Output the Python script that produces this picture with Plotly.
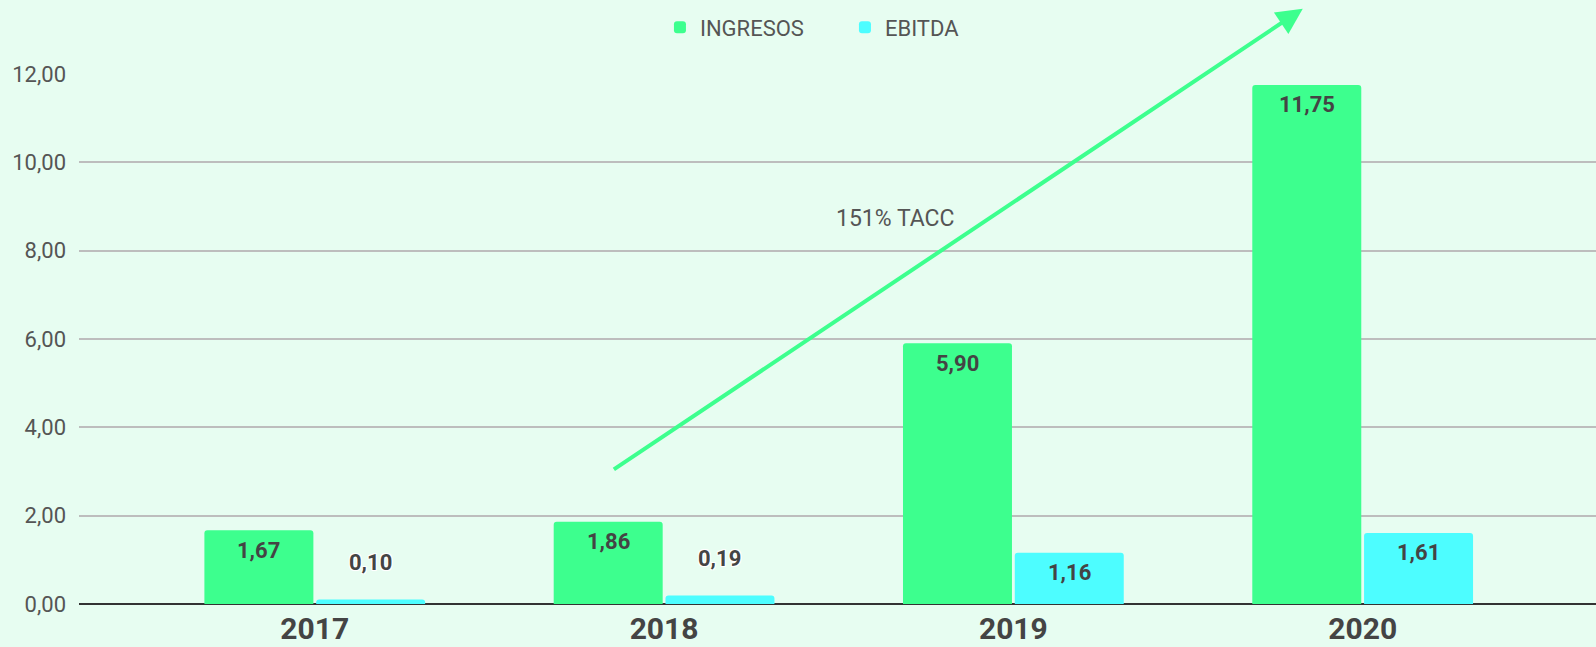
import plotly.graph_objects as go

years = ["2017", "2018", "2019", "2020"]
ingresos = [1.67, 1.86, 5.90, 11.75]
ebitda = [0.10, 0.19, 1.16, 1.61]
series_names = ["INGRESOS", "EBITDA"]
y_ticks = [0, 2, 4, 6, 8, 10, 12]
cagr_text = "151% TACC"

GREEN = "#3DFF8E"
CYAN = "#4DFDFF"
BG = "#E7FDF1"
TXT = "#555555"
LBL = "#444444"

W, H = 1596, 647
M_L, M_R, M_T, M_B = 79, 0, 73, 43
BARGAP = 0.36
BGG = 0.025
Y_MAX = 12.02
plot_h = H - M_T - M_B
px_per_unit = plot_h / Y_MAX

fig = go.Figure()
fig.add_trace(go.Bar(x=years, y=ingresos, name=series_names[0],
                     marker=dict(color=GREEN, cornerradius=3, line=dict(width=0))))
fig.add_trace(go.Bar(x=years, y=ebitda, name=series_names[1],
                     marker=dict(color=CYAN, cornerradius=3, line=dict(width=0))))

def fmt(v):
    return f"{v:.2f}".replace(".", ",")

slot = (1 - BARGAP) / 2
halo = "-1px -1px 0 #fff, 1px -1px 0 #fff, -1px 1px 0 #fff, 1px 1px 0 #fff, 0 0 2px #fff"
annotations = []
for si, vals in enumerate([ingresos, ebitda]):
    off = (si - 0.5) * slot
    for i, v in enumerate(vals):
        inside = v * px_per_unit > 40
        annotations.append(dict(
            x=i + off, y=v, xref="x", yref="y", text=fmt(v), showarrow=False,
            yanchor="middle", yshift=-20 if inside else 37,
            font=dict(family="Roboto", size=22, color=LBL, weight="bold",
                      shadow="none" if inside else halo)))

# growth arrow
annotations.append(dict(
    xref="x domain", yref="y domain", axref="x domain", ayref="y domain",
    x=0.8067, y=1.121, ax=0.3516, ay=0.2516,
    showarrow=True, arrowhead=2, arrowsize=1.3, arrowwidth=4, arrowcolor=GREEN,
    text=""))
annotations.append(dict(
    xref="paper", yref="paper", x=0.5383, y=0.7543, text=cagr_text,
    showarrow=False, font=dict(family="Roboto", size=23, color=TXT)))

fig.update_layout(
    width=W, height=H,
    margin=dict(l=M_L, r=M_R, t=M_T, b=M_B),
    paper_bgcolor=BG, plot_bgcolor=BG,
    barmode="group", bargap=BARGAP, bargroupgap=BGG,
    separators=",.",
    font=dict(family="Roboto", color=TXT),
    legend=dict(orientation="h", xref="container", yref="container",
                x=0.4135, xanchor="left", y=1 - 27.5 / H, yanchor="middle",
                entrywidth=140, entrywidthmode="pixels",
                font=dict(size=22, color=TXT), bgcolor="rgba(0,0,0,0)"),
    annotations=annotations,
    xaxis=dict(type="category", range=[-0.675, 3.668], showgrid=False,
               tickfont=dict(size=30, color=LBL, weight="bold"), automargin=False,
               showline=False, ticks="", ticklabelstandoff=4),
    yaxis=dict(range=[0, Y_MAX], tickvals=y_ticks, tickformat=".2f",
               showgrid=True, gridcolor="#BDBDBD", gridwidth=1.5, automargin=False,
               zeroline=True, zerolinecolor="#333333", zerolinewidth=1.5,
               showline=False, ticks="", ticklabelstandoff=12,
               tickfont=dict(size=22, color=TXT)),
)

fig.write_html("out.html", config={"displayModeBar": False},
               post_script="document.body.style.margin='0';document.body.style.overflow='hidden';")
